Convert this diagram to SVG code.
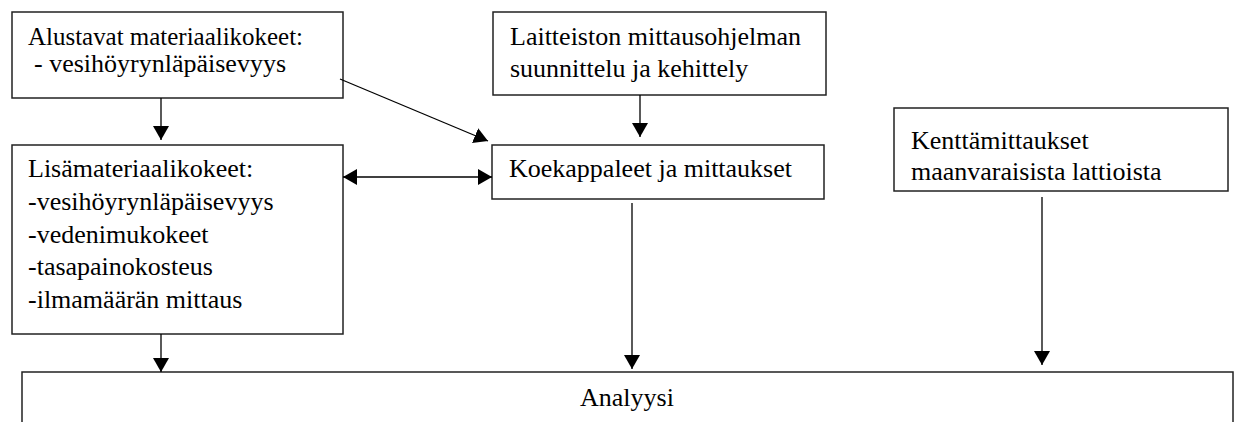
<svg xmlns="http://www.w3.org/2000/svg" width="1236" height="422" viewBox="0 0 1236 422">
<style>
.box{fill:#fff;stroke:#222;stroke-width:1.5}
.t{font-family:"Liberation Serif","DejaVu Serif",serif;font-size:26px;fill:#000}
.c{stroke:#000;stroke-width:1.3;fill:none;marker-end:url(#ah)}
</style>
<defs>
<marker id="ah" markerUnits="userSpaceOnUse" markerWidth="14" markerHeight="16" refX="14" refY="8" orient="auto-start-reverse" viewBox="0 0 14 16">
<path d="M0,0 L14,8 L0,16 z" fill="#000"/>
</marker>
</defs>
<rect width="1236" height="422" fill="#fff"/>
<g id="n-alustavat">
<rect class="box" x="12" y="12" width="331" height="86"/>
<text class="t" x="28" y="45" textLength="275" lengthAdjust="spacingAndGlyphs">Alustavat materiaalikokeet:</text>
<text class="t" x="34" y="72">- vesihöyrynläpäisevyys</text>
</g>
<g id="n-laitteisto">
<rect class="box" x="493" y="12" width="333" height="83"/>
<text class="t" x="510" y="45">Laitteiston mittausohjelman</text>
<text class="t" x="510" y="77">suunnittelu ja kehittely</text>
</g>
<g id="n-lisa">
<rect class="box" x="12" y="145" width="331" height="189"/>
<text class="t" x="28" y="177">Lisämateriaalikokeet:</text>
<text class="t" x="28" y="210">-vesihöyrynläpäisevyys</text>
<text class="t" x="28" y="243">-vedenimukokeet</text>
<text class="t" x="28" y="275">-tasapainokosteus</text>
<text class="t" x="28" y="308">-ilmamäärän mittaus</text>
</g>
<g id="n-koe">
<rect class="box" x="492" y="145" width="332" height="54"/>
<text class="t" x="509" y="177">Koekappaleet ja mittaukset</text>
</g>
<g id="n-kentta">
<rect class="box" x="894" y="108" width="334" height="83"/>
<text class="t" x="911" y="149">Kenttämittaukset</text>
<text class="t" x="911" y="180">maanvaraisista lattioista</text>
</g>
<g id="n-analyysi">
<rect class="box" x="22" y="372" width="1211" height="80"/>
<text class="t" x="627" y="406" text-anchor="middle">Analyysi</text>
</g>
<g id="connectors">
<line class="c" x1="161" y1="98" x2="161" y2="140"/>
<line class="c" x1="340" y1="79" x2="488" y2="141"/>
<line class="c" x1="640" y1="95" x2="640" y2="137"/>
<line class="c" x1="343" y1="177" x2="492" y2="177" style="marker-start:url(#ah)"/>
<line class="c" x1="161" y1="334" x2="161" y2="372"/>
<line class="c" x1="632" y1="203" x2="632" y2="369"/>
<line class="c" x1="1042" y1="197" x2="1042" y2="365"/>
</g>
</svg>
